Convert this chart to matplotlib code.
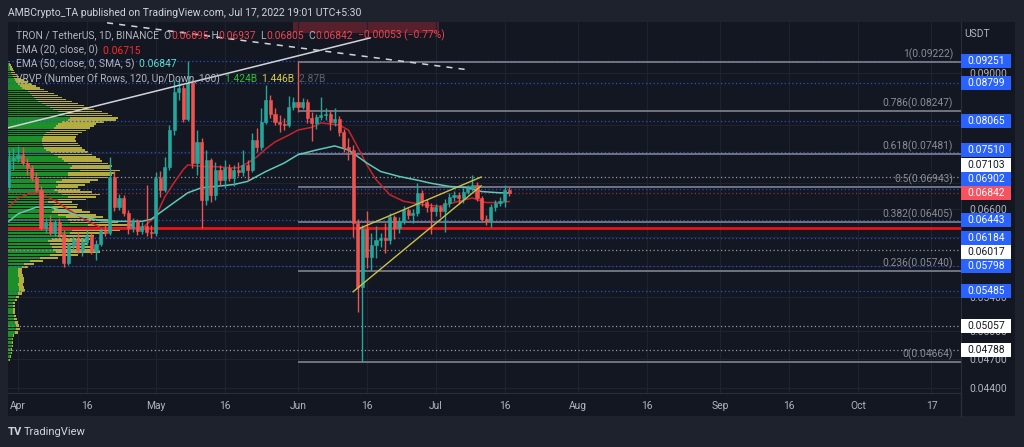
import numpy as np
import matplotlib
matplotlib.use("Agg")
import matplotlib.pyplot as plt
from matplotlib.patches import Rectangle
from matplotlib.lines import Line2D
from matplotlib.ticker import NullLocator

# -----------------------------------------------------------------------------
# DATA  (TRX / USDT daily candles, day 0 = 1 Apr 2022)
# -----------------------------------------------------------------------------

days = list(range(-2, 108))

opens = [
    0.0694, 0.0738, 0.0741, 0.0747, 0.0733, 0.0725, 0.0708, 0.0689, 0.0632, 0.0641,
    0.0625, 0.0641, 0.0624, 0.0584, 0.0608, 0.0615, 0.0602, 0.0613, 0.0621, 0.0600,
    0.0610, 0.0628, 0.0625, 0.0710, 0.0663, 0.0677, 0.0654, 0.0632, 0.0642, 0.0628,
    0.0635, 0.0627, 0.0625, 0.0708, 0.0689, 0.0726, 0.0790, 0.0862, 0.0870, 0.0810,
    0.0879, 0.0733, 0.0769, 0.0674, 0.0738, 0.0682, 0.0721, 0.0705, 0.0725, 0.0708,
    0.0721, 0.0718, 0.0730, 0.0721, 0.0772, 0.0760, 0.0805, 0.0846, 0.0819, 0.0805,
    0.0801, 0.0799, 0.0833, 0.0842, 0.0833, 0.0842, 0.0812, 0.0803, 0.0814, 0.0818,
    0.0820, 0.0805, 0.0810, 0.0787, 0.0760, 0.0755, 0.0640, 0.0553, 0.0631, 0.0592,
    0.0608, 0.0615, 0.0618, 0.0615, 0.0649, 0.0633, 0.0642, 0.0659, 0.0651, 0.0654,
    0.0685, 0.0671, 0.0663, 0.0657, 0.0663, 0.0657, 0.0670, 0.0679, 0.0682, 0.0677,
    0.0687, 0.0693, 0.0697, 0.0677, 0.0646, 0.0643, 0.0663, 0.0670, 0.0673, 0.06895,
]
highs = [
    0.0755, 0.0758, 0.0762, 0.0760, 0.0741, 0.0730, 0.0718, 0.0696, 0.0647, 0.0651,
    0.0644, 0.0647, 0.0630, 0.0613, 0.0621, 0.0627, 0.0618, 0.0630, 0.0625, 0.0615,
    0.0633, 0.0637, 0.0743, 0.0719, 0.0683, 0.0682, 0.0659, 0.0647, 0.0646, 0.0641,
    0.0697, 0.0637, 0.0718, 0.0719, 0.0743, 0.0799, 0.0885, 0.0889, 0.0875, 0.09251,
    0.0885, 0.0790, 0.0776, 0.0755, 0.0741, 0.0735, 0.0730, 0.0738, 0.0731, 0.0730,
    0.0735, 0.0755, 0.0738, 0.0785, 0.0794, 0.0831, 0.0875, 0.0856, 0.0831, 0.0818,
    0.0812, 0.0854, 0.0852, 0.09222, 0.0850, 0.0848, 0.0823, 0.0820, 0.0852, 0.0830,
    0.0826, 0.0830, 0.0815, 0.0792, 0.0775, 0.0764, 0.0645, 0.0637, 0.0657, 0.0625,
    0.0635, 0.0625, 0.0640, 0.0655, 0.0652, 0.0648, 0.0665, 0.0662, 0.0660, 0.0701,
    0.0690, 0.0676, 0.0670, 0.0668, 0.0667, 0.0675, 0.0684, 0.0688, 0.0686, 0.0692,
    0.0698, 0.0713, 0.0702, 0.0680, 0.0652, 0.0668, 0.0674, 0.0678, 0.0697, 0.06937,
]
lows = [
    0.0689, 0.0721, 0.0735, 0.0730, 0.0713, 0.0704, 0.0686, 0.0630, 0.0625, 0.0622,
    0.0621, 0.0620, 0.0579, 0.0581, 0.0602, 0.0597, 0.0593, 0.0608, 0.0596, 0.0588,
    0.0607, 0.0621, 0.0622, 0.0657, 0.0659, 0.0650, 0.0624, 0.0627, 0.0622, 0.0624,
    0.0621, 0.0618, 0.0621, 0.0679, 0.0686, 0.0721, 0.0781, 0.0846, 0.0805, 0.0806,
    0.0725, 0.0713, 0.0633, 0.0666, 0.0671, 0.0674, 0.0697, 0.0693, 0.0703, 0.0696,
    0.0711, 0.0712, 0.0705, 0.0718, 0.0752, 0.0755, 0.0801, 0.0812, 0.0799, 0.0787,
    0.0790, 0.0795, 0.0826, 0.0823, 0.0828, 0.0803, 0.0770, 0.0792, 0.0808, 0.0808,
    0.0790, 0.0798, 0.0780, 0.0752, 0.0738, 0.0620, 0.0522, 0.04664, 0.0578, 0.0575,
    0.0590, 0.0605, 0.0598, 0.0610, 0.0617, 0.0625, 0.0638, 0.0645, 0.0640, 0.0650,
    0.0665, 0.0656, 0.0624, 0.0650, 0.0648, 0.0627, 0.0664, 0.0672, 0.0668, 0.0670,
    0.0683, 0.0688, 0.0672, 0.0642, 0.0636, 0.0634, 0.0658, 0.0665, 0.0664, 0.06805,
]
closes = [
    0.0738, 0.0741, 0.0747, 0.0733, 0.0725, 0.0708, 0.0689, 0.0632, 0.0641, 0.0625,
    0.0641, 0.0624, 0.0584, 0.0608, 0.0615, 0.0602, 0.0613, 0.0621, 0.0600, 0.0610,
    0.0628, 0.0625, 0.0710, 0.0663, 0.0677, 0.0654, 0.0632, 0.0642, 0.0628, 0.0635,
    0.0627, 0.0625, 0.0708, 0.0689, 0.0726, 0.0790, 0.0862, 0.0870, 0.0810, 0.0879,
    0.0733, 0.0769, 0.0674, 0.0738, 0.0682, 0.0721, 0.0705, 0.0725, 0.0708, 0.0721,
    0.0718, 0.0730, 0.0721, 0.0772, 0.0760, 0.0805, 0.0846, 0.0819, 0.0805, 0.0801,
    0.0799, 0.0833, 0.0842, 0.0833, 0.0842, 0.0812, 0.0803, 0.0814, 0.0818, 0.0820,
    0.0805, 0.0810, 0.0787, 0.0760, 0.0755, 0.0640, 0.0553, 0.0631, 0.0592, 0.0608,
    0.0615, 0.0618, 0.0615, 0.0649, 0.0633, 0.0642, 0.0659, 0.0651, 0.0654, 0.0685,
    0.0671, 0.0663, 0.0657, 0.0663, 0.0657, 0.0670, 0.0679, 0.0682, 0.0677, 0.0687,
    0.0693, 0.0697, 0.0677, 0.0646, 0.0643, 0.0663, 0.0670, 0.0673, 0.06895, 0.06842,
]

# EMA values
ema20_days = [-2, 0, 3, 6, 8, 11, 15, 18, 22, 27, 30, 32, 34, 36, 37, 39, 41, 43, 46, 48,
              50, 52, 54, 56, 59, 61, 64, 66, 70, 72, 74, 76, 78, 81, 84, 88, 92, 96, 99,
              102, 105, 107]
ema20_vals = [0.0663, 0.0677, 0.0685, 0.0680, 0.0673, 0.0659, 0.0643, 0.0633, 0.0631, 0.0632,
              0.0649, 0.0679, 0.0701, 0.0722, 0.0730, 0.0728, 0.0727, 0.0727, 0.0725, 0.0725,
              0.0733, 0.0743, 0.0757, 0.0769, 0.0781, 0.0790, 0.0795, 0.0803, 0.0799, 0.0790,
              0.0760, 0.0730, 0.0706, 0.0682, 0.0672, 0.0667, 0.0664, 0.0672, 0.0677, 0.0670,
              0.0670, 0.06715]
ema50_days = [-2, 0, 4, 7, 10, 14, 18, 22, 27, 29, 31, 34, 37, 40, 43, 47, 50, 54, 58, 61,
              65, 69, 72, 76, 79, 83, 87, 90, 94, 98, 101, 105, 107]
ema50_vals = [0.0642, 0.0653, 0.0663, 0.0663, 0.0657, 0.0649, 0.0643, 0.0642, 0.0642, 0.0645,
              0.0655, 0.0670, 0.0685, 0.0693, 0.0695, 0.0698, 0.0703, 0.0719, 0.0733, 0.0747,
              0.0755, 0.0762, 0.0755, 0.0733, 0.0719, 0.0711, 0.0705, 0.0700, 0.0695, 0.0693,
              0.0687, 0.0685, 0.06847]

# Visible-range volume profile, 120 rows (bottom -> top), up / down volume
vrvp_low, vrvp_high = 0.04664, 0.09251
vrvp_up = [
    1, 2, 3, 3, 4, 4, 4, 5, 7, 8,
    8, 7, 6, 6, 5, 5, 5, 5, 7, 8,
    10, 11, 11, 10, 11, 11, 10, 10, 10, 14,
    16, 22, 32, 42, 48, 45, 44, 42, 40, 44,
    50, 62, 64, 85, 80, 62, 60, 58, 50, 44,
    46, 44, 46, 40, 50, 60, 54, 50, 46, 48,
    50, 48, 54, 62, 60, 60, 72, 62, 64, 60,
    56, 54, 50, 46, 42, 38, 36, 35, 34, 34,
    34, 35, 36, 38, 42, 46, 48, 50, 54, 60,
    62, 58, 55, 50, 45, 42, 38, 34, 30, 28,
    26, 24, 22, 20, 17, 14, 12, 10, 8, 7,
    6, 5, 4, 3, 3, 2, 2, 1, 1, 1,
]
vrvp_down = [
    1, 1, 1, 1, 1, 1, 1, 1, 3, 4,
    3, 3, 3, 2, 2, 2, 2, 2, 2, 3,
    4, 6, 5, 5, 5, 5, 5, 4, 4, 6,
    10, 13, 18, 28, 44, 43, 40, 38, 38, 38,
    36, 36, 48, 50, 44, 48, 40, 37, 38, 38,
    28, 25, 24, 24, 28, 28, 38, 34, 26, 22,
    27, 34, 36, 38, 44, 46, 40, 40, 40, 40,
    38, 38, 38, 38, 38, 39, 38, 37, 36, 34,
    33, 33, 34, 36, 36, 36, 38, 38, 42, 48,
    48, 46, 45, 44, 41, 38, 38, 36, 34, 30,
    28, 26, 24, 20, 19, 18, 16, 14, 12, 9,
    7, 6, 5, 4, 3, 3, 2, 2, 1, 1,
]

fib_labels = ["1", "0.786", "0.618", "0.5", "0.382", "0.236", "0"]
fib_values = [0.09222, 0.08247, 0.07481, 0.06943, 0.06405, 0.05740, 0.04664]
fib_start = 61

blue_levels = [0.09251, 0.08799, 0.08065, 0.07510, 0.06902, 0.06443, 0.06184, 0.05798, 0.05485]
white_levels = [0.07103, 0.06017, 0.05057, 0.04788]
last_price = 0.06842

price_ticks = [0.044, 0.047, 0.050, 0.054, 0.058, 0.062, 0.066, 0.070, 0.075, 0.080, 0.090]
price_tick_labels = ["0.04400", "0.04700", "0.05000", "0.05400", "", "", "0.06600",
                     "", "", "", "0.09000"]
date_ticks = [0, 15, 30, 45, 61, 76, 91, 106, 122, 137, 153, 168, 183, 199]
date_labels = ["Apr", "16", "May", "16", "Jun", "16", "Jul", "16",
               "Aug", "16", "Sep", "16", "Oct", "17"]

# drawings
trend_white_d, trend_white_p = [-2.2, 76.7], [0.0794, 0.0974]
trend_dash_d, trend_dash_p = [19.4, 98.0], [0.1008, 0.0906]
wedge_up_d, wedge_up_p = [74.5, 100.9], [0.0632, 0.0710]
wedge_lo_d, wedge_lo_p = [73.0, 100.9], [0.0547, 0.0696]
box_d, box_p = [59.9, 91.7], [0.0985, 0.1030]

# -----------------------------------------------------------------------------
# STYLE
# -----------------------------------------------------------------------------

plt.rcParams["font.family"] = ["Roboto", "DejaVu Sans"]
OUTER = "#1e222d"
BG = "#131722"
GRID = "#1f2330"
TXT = "#b2b5be"
UP = "#26a69a"
DOWN = "#ef5350"
RED_TXT = "#f0444f"
FIB = "#787b86"
FS = 7.4

W, H = 1024, 447
fig = plt.figure(figsize=(W / 100, H / 100), dpi=100, facecolor=OUTER)
fig.patches.append(Rectangle((8 / W, 1 - 416 / H), (1015 - 8) / W, (416 - 22) / H,
                             transform=fig.transFigure, facecolor=BG, zorder=-5))
ax = fig.add_axes([8 / W, 1 - 393 / H, (961 - 8) / W, (393 - 22) / H])
ax.set_zorder(1)
ax.set_facecolor(BG)
ax.set_yscale("log")
xlim = (-2.18, 205.45)
ax.set_xlim(*xlim)
ax.set_ylim(0.043461, 0.10099)

# grid & axes
ax.set_axisbelow(True)
ax.grid(True, color=GRID, linewidth=0.8)
ax.yaxis.set_minor_locator(NullLocator())
ax.set_yticks(price_ticks)
ax.set_yticklabels(price_tick_labels)
ax.yaxis.tick_right()
ax.set_xticks(date_ticks)
ax.set_xticklabels(date_labels)
ax.tick_params(length=0, colors=TXT, labelsize=FS)
ax.tick_params(axis="y", pad=6)
ax.tick_params(axis="x", pad=6)
for s in ["left", "top"]:
    ax.spines[s].set_visible(False)
for s in ["right", "bottom"]:
    ax.spines[s].set_color("#2a2e39")
fig.lines.append(Line2D([961 / W, 961 / W], [1 - 393 / H, 1 - 416 / H],
                        transform=fig.transFigure, color="#2a2e39", lw=1))

# --- volume profile ---
up = np.array(vrvp_up, dtype=float)
down = np.array(vrvp_down, dtype=float)
tot = up + down
edges = np.linspace(vrvp_low, vrvp_high, len(up) + 1)
centers = (edges[:-1] + edges[1:]) / 2
row_h = edges[1] - edges[0]
scale = 0.1417 * (xlim[1] - xlim[0]) / tot.max()
ax.barh(centers, up * scale, height=row_h * 0.75, left=xlim[0],
        color="#1f9d2a", alpha=0.9, zorder=1)
ax.barh(centers, down * scale, height=row_h * 0.75, left=xlim[0] + up * scale,
        color="#c6bf45", alpha=0.9, zorder=1)
poc = centers[np.argmax(tot)]
ax.axhline(poc, color="#e8141c", lw=2, zorder=3.5)

# --- horizontal levels ---
for lv in blue_levels:
    ax.axhline(lv, color="#2a4fc9", lw=0.9, ls=(0, (1, 2)), zorder=1.5)
for lv in white_levels:
    ax.axhline(lv, color="#9598a1", lw=0.9, ls=(0, (1, 2)), zorder=1.5)
ax.axhline(last_price, color="#8c2f36", lw=0.9, ls=(0, (1, 2)), zorder=1.5)

# --- fibonacci ---
ax.hlines(fib_values, fib_start, xlim[1], color=FIB, lw=1.3, zorder=2)
for lab, v in zip(fib_labels, fib_values):
    ax.annotate(f"{lab}({v:.5f})", xy=(0.9915, v), xycoords=("axes fraction", "data"),
                xytext=(0, 1.5), textcoords="offset points", ha="right", va="bottom",
                color="#8a8d96", fontsize=FS, zorder=10)

# --- red box drawing ---
ax.add_patch(Rectangle((box_d[0], box_p[0]), box_d[1] - box_d[0], box_p[1] - box_p[0],
                       facecolor="#f23645", alpha=0.3, edgecolor="none", zorder=0.5))

# --- EMAs ---
ax.plot(ema20_days, ema20_vals, color="#c8232c", lw=1.1, zorder=3)
ax.plot(ema50_days, ema50_vals, color="#5cc9b9", lw=1.1, zorder=3)

# --- candles ---
o = np.array(opens)
c = np.array(closes)
col = np.where(c >= o, UP, DOWN)
ax.vlines(days, lows, highs, colors=col, lw=1, zorder=4)
ax.bar(days, np.abs(c - o), bottom=np.minimum(o, c), width=0.68, color=col,
       edgecolor=col, linewidth=0.4, zorder=4.5)

# --- trend lines ---
ax.plot(trend_white_d, trend_white_p, color="#d1d4dc", lw=1.1, zorder=6)
ax.plot(trend_dash_d, trend_dash_p, color="#d1d4dc", lw=1.1, ls=(0, (4, 4)), zorder=6)
ax.plot(wedge_up_d, wedge_up_p, color="#c9c149", lw=1, zorder=6)
ax.plot(wedge_lo_d, wedge_lo_p, color="#c9c149", lw=1, zorder=6)

# --- price tags on the axis (stacked so they do not overlap) ---
tags = [(p, "#2962ff", "white") for p in blue_levels]
tags += [(p, "white", "#131722") for p in white_levels]
tags.append((last_price, "#f7525f", "white"))
ypix = {p: ax.transData.transform((0, p))[1] for p, _, _ in tags}
gap = 14.3
anchor = ypix[last_price]
pos = {last_price: anchor}
prev = anchor
for p in sorted([t[0] for t in tags if t[0] > last_price]):
    prev = max(ypix[p], prev + gap)
    pos[p] = prev
prev = anchor
for p in sorted([t[0] for t in tags if t[0] < last_price], reverse=True):
    prev = min(ypix[p], prev - gap)
    pos[p] = prev
for p, fc, tc in tags:
    yc = pos[p]
    fig.patches.append(Rectangle((961 / W, (yc - 7) / H), 50 / W, 14 / H,
                                 transform=fig.transFigure, facecolor=fc,
                                 edgecolor="none", zorder=5))
    fig.text(986 / W, yc / H, f"{p:.5f}", color=tc, fontsize=FS, ha="center",
             va="center", zorder=6)

fig.text(977 / W, 1 - 34 / H, "USDT", color=TXT, fontsize=FS, ha="center", va="center")

# --- header and legend ---
renderer = fig.canvas.get_renderer()


def draw_pieces(x_px, y_px, pieces, size=FS, weight="normal"):
    x = x_px
    for s, colr in pieces:
        t = fig.text(x / W, 1 - y_px / H, s, color=colr, fontsize=size, fontweight=weight,
                     ha="left", va="center", zorder=20)
        x = t.get_window_extent(renderer).x1


draw_pieces(8, 13, [("AMBCrypto_TA published on TradingView.com, Jul 17, 2022 19:01 UTC+5:30",
                     "#d1d4dc")], size=7.5)
draw_pieces(16, 35.7, [("TRON / TetherUS, 1D, BINANCE", TXT), ("  O", TXT), ("0.06895", RED_TXT),
                       (" H", TXT), ("0.06937", RED_TXT), ("  L", TXT), ("0.06805", RED_TXT),
                       ("  C", TXT), ("0.06842", RED_TXT), ("  \u22120.00053 (\u22120.77%)", RED_TXT)])
draw_pieces(16, 50.7, [("EMA (20, close, 0)", TXT), ("  0.06715", "#ff2a2a")])
draw_pieces(16, 64.3, [("EMA (50, close, 0, SMA, 5)", TXT), ("  0.06847", "#5ce0cf")])
draw_pieces(16, 79.3, [("VRVP (Number Of Rows, 120, Up/Down, 100)", TXT), ("  1.424B", "#2fbf3a"),
                       ("  1.446B", "#d8cf4e"), ("  2.87B", "#5d606b")])

# --- footer logo ---
draw_pieces(8, 432, [("TV", "#d1d4dc")], size=8, weight="bold")
draw_pieces(24, 432, [("TradingView", "#d1d4dc")], size=8)

fig.savefig("out.png", dpi=100, facecolor=OUTER)
print("[INFO] Saved: out.png")
